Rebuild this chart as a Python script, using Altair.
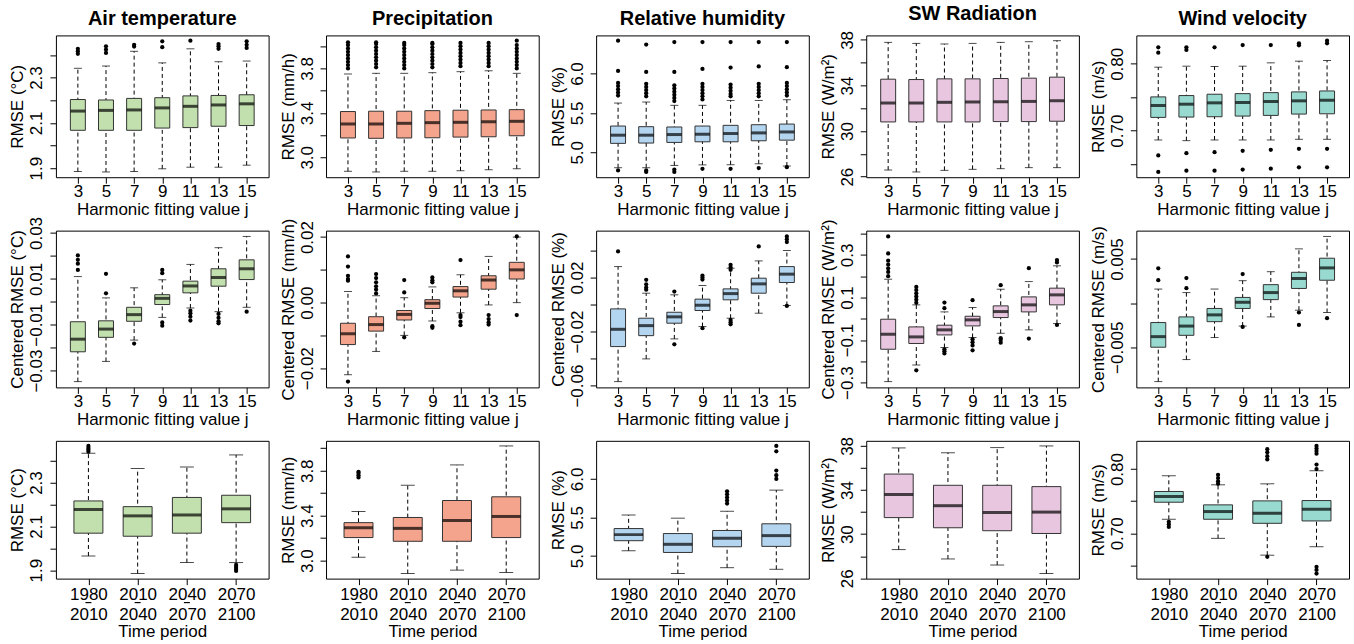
import json
import altair as alt
import pandas as pd

FONT = "Liberation Sans"

J_VALUES = ["3", "5", "7", "9", "11", "13", "15"]
PERIODS = ["1980-2010", "2010-2040", "2040-2070", "2070-2100"]

TITLES = ["Air temperature", "Precipitation", "Relative humidity", "SW Radiation", "Wind velocity"]
YT_RMSE = ["RMSE (°C)", "RMSE (mm/h)", "RMSE (%)", "RMSE (W/m²)", "RMSE (m/s)"]
YT_CENT = ["Centered RMSE (°C)", "Centered RMSE (mm/h)", "Centered RMSE (%)",
           "Centered RMSE (W/m²)", "Centered RMSE (m/s)"]
XT_J = "Harmonic fitting value j"
XT_T = "Time period"
COLORS = ["#C2E0AE", "#F4A48C", "#B4D5F0", "#E8C6DF", "#98DAD0"]

# each tuple: (lower whisker, Q1, median, Q3, upper whisker)
# ---- row 1: RMSE vs harmonic fitting value j
AIR_J = [(1.885, 2.067, 2.152, 2.203, 2.341), (1.883, 2.067, 2.155, 2.201, 2.351),
         (1.885, 2.067, 2.157, 2.208, 2.416), (1.897, 2.077, 2.166, 2.211, 2.365),
         (1.904, 2.079, 2.173, 2.219, 2.427), (1.904, 2.085, 2.179, 2.221, 2.370),
         (1.913, 2.088, 2.184, 2.224, 2.373)]
AIR_J_OUT = [[2.405, 2.416, 2.427], [2.409, 2.424, 2.438], [2.437, 2.445], [2.434, 2.460],
             [2.463], [2.427, 2.438, 2.448], [2.431, 2.445, 2.460]]

PRE_J = [(2.874, 3.174, 3.300, 3.412, 3.750), (2.868, 3.171, 3.300, 3.415, 3.756),
         (2.874, 3.174, 3.306, 3.415, 3.756), (2.874, 3.176, 3.312, 3.420, 3.762),
         (2.879, 3.182, 3.315, 3.424, 3.771), (2.888, 3.185, 3.320, 3.426, 3.779),
         (2.897, 3.194, 3.324, 3.429, 3.756)]
PRE_J_OUT = [[3.80, 3.83, 3.86, 3.89, 3.92, 3.95, 3.98, 4.01, 4.035],
             [3.81, 3.84, 3.87, 3.90, 3.93, 3.96, 3.99, 4.02, 4.035],
             [3.80, 3.83, 3.86, 3.89, 3.92, 3.95, 3.98, 4.01, 4.03],
             [3.81, 3.84, 3.87, 3.90, 3.93, 3.96, 3.99, 4.02, 4.03],
             [3.82, 3.85, 3.88, 3.91, 3.94, 3.97, 4.00, 4.03],
             [3.82, 3.85, 3.88, 3.91, 3.94, 3.97, 4.00, 4.03],
             [3.80, 3.83, 3.86, 3.89, 3.92, 3.95, 3.98, 4.01, 4.05]]

RH_J = [(4.804, 5.113, 5.217, 5.333, 5.625), (4.804, 5.117, 5.217, 5.325, 5.638),
        (4.833, 5.125, 5.225, 5.321, 5.596), (4.840, 5.133, 5.229, 5.333, 5.596),
        (4.842, 5.133, 5.238, 5.342, 5.658), (4.854, 5.146, 5.246, 5.350, 5.658),
        (4.825, 5.154, 5.258, 5.358, 5.667)]
RH_J_OUT = [[6.417, 6.033, 5.88, 5.84, 5.80, 5.76, 5.72, 4.77],
            [6.367, 6.02, 5.87, 5.83, 5.79, 5.75, 5.71, 4.77, 4.75],
            [6.40, 6.02, 5.85, 5.81, 5.77, 5.73, 5.69, 5.65, 4.78, 4.75],
            [6.40, 6.058, 5.87, 5.83, 5.79, 5.75, 5.71, 5.67, 4.79],
            [6.40, 6.075, 5.86, 5.82, 5.78, 5.74, 5.71, 4.79],
            [6.40, 6.09, 5.87, 5.83, 5.79, 5.75, 5.71, 4.80],
            [6.40, 6.08, 5.88, 5.84, 5.80, 5.76, 5.72, 4.81]]

SW_J = [(26.58, 30.80, 32.46, 34.55, 37.78), (26.41, 30.80, 32.46, 34.52, 37.69),
        (26.55, 30.80, 32.52, 34.58, 37.64), (26.64, 30.80, 32.55, 34.58, 37.69),
        (26.70, 30.83, 32.57, 34.61, 37.78), (26.79, 30.83, 32.60, 34.64, 37.84),
        (26.79, 30.86, 32.66, 34.73, 37.93)]
SW_J_OUT = [[], [], [], [], [], [], []]

WIND_J = [(0.686, 0.7198, 0.7376, 0.7505, 0.795), (0.685, 0.7203, 0.7396, 0.7525, 0.7965),
          (0.686, 0.7208, 0.7416, 0.7545, 0.796), (0.686, 0.7218, 0.7421, 0.7554, 0.7965),
          (0.686, 0.7228, 0.7436, 0.7569, 0.8015), (0.687, 0.7248, 0.7446, 0.758, 0.804),
          (0.687, 0.7252, 0.7455, 0.7594, 0.805)]
WIND_J_OUT = [[0.8248, 0.8168, 0.6629, 0.6381], [0.8248, 0.8208, 0.6663, 0.640],
              [0.8248, 0.6678, 0.640], [0.8282, 0.6698, 0.6416], [0.8282, 0.6713, 0.643],
              [0.8307, 0.8277, 0.6728, 0.645], [0.8347, 0.8307, 0.6728, 0.645]]

# ---- row 2: centered RMSE vs harmonic fitting value j
AIR_C = [(-0.0348, -0.0218, -0.0163, -0.0087, 0.0110), (-0.0260, -0.0155, -0.0119, -0.0083, 0.0017),
         (-0.0167, -0.0085, -0.0056, -0.0024, 0.0061), (-0.0068, -0.0012, 0.0015, 0.0031, 0.0096),
         (-0.0027, 0.0039, 0.0069, 0.0090, 0.0163), (-0.0043, 0.0068, 0.0106, 0.0144, 0.0236),
         (-0.0024, 0.0097, 0.0144, 0.0183, 0.0285)]
AIR_C_OUT = [[0.0202, 0.0183, 0.0166, 0.0139], [0.0122, 0.0037], [-0.0182],
             [0.0139, 0.0125, -0.0090, -0.0104], [-0.0039, -0.0050, -0.0065, -0.0082],
             [-0.0053, -0.0070, -0.0085, -0.0094], [-0.0043]]

PRE_C = [(-0.0220, -0.0128, -0.0095, -0.0063, 0.0034), (-0.0149, -0.0087, -0.0067, -0.0043, 0.0021),
         (-0.0100, -0.0053, -0.0036, -0.0024, 0.0015), (-0.0056, -0.0018, -0.0002, 0.0009, 0.0048),
         (-0.0031, 0.0017, 0.0036, 0.0049, 0.0085), (-0.0007, 0.0041, 0.0069, 0.0082, 0.0141),
         (0.0000, 0.0072, 0.0100, 0.0123, 0.0200)]
PRE_C_OUT = [[0.0141, 0.0110, 0.0082, 0.0072, 0.0067, -0.0241],
             [0.0087, 0.0075, 0.0062, 0.0050, 0.0040, 0.0028],
             [0.0069, 0.0031, -0.0106], [0.0077, 0.0068, 0.0062, -0.0072, -0.0077],
             [0.0130, -0.0038, -0.0044, -0.0058, -0.0069], [-0.0038, -0.0050, -0.0060, -0.0067],
             [0.0202, -0.0038]]

RH_C = [(-0.0570, -0.0311, -0.0183, -0.0032, 0.0281), (-0.0402, -0.0230, -0.0156, -0.0101, 0.0084),
        (-0.0254, -0.0138, -0.0091, -0.0057, 0.0072), (-0.0163, -0.0044, -0.0005, 0.0040, 0.0141),
        (-0.0101, 0.0035, 0.0081, 0.0116, 0.0269), (-0.0064, 0.0084, 0.0153, 0.0195, 0.0323),
        (-0.0007, 0.0163, 0.0225, 0.0281, 0.0400)]
RH_C_OUT = [[0.0393], [0.0183, 0.0150, 0.0126, 0.0110], [0.0096, -0.0294],
            [0.0215, 0.0200, 0.0185, -0.0175], [0.0294, 0.0275, 0.0257, -0.0114, -0.0130, -0.0146],
            [0.0430], [0.0504, 0.0483, 0.0462, -0.0010]]

SW_C = [(-0.295, -0.143, -0.0725, -0.002, 0.186), (-0.217, -0.116, -0.085, -0.038, 0.0655),
        (-0.135, -0.0757, -0.052, -0.030, 0.0325), (-0.088, -0.0333, -0.005, 0.012, 0.053),
        (-0.068, 0.0059, 0.034, 0.0608, 0.139), (-0.052, 0.0325, 0.0655, 0.103, 0.175),
        (-0.0224, 0.0655, 0.1125, 0.144, 0.249)]
SW_C_OUT = [[0.387, 0.307, 0.273, 0.255, 0.237, 0.220, 0.200],
            [0.150, 0.135, 0.120, 0.105, 0.090, 0.075, -0.242],
            [0.0765, 0.050, -0.143, -0.153, -0.163], [0.0875, -0.096, -0.110, -0.125, -0.148],
            [0.158, -0.091, -0.100, -0.112], [0.238, -0.093], [0.276, 0.265, -0.029]]

WIND_C = [(-0.0089, -0.0050, -0.0038, -0.0022, 0.0016), (-0.0064, -0.00365, -0.0026, -0.00156, 0.0012),
          (-0.0039, -0.0021, -0.00133, -0.0006, 0.0016), (-0.0026, -0.0006, 0.0001, 0.00065, 0.00255),
          (-0.00156, 0.0004, 0.0012, 0.0021, 0.00357), (-0.0008, 0.00167, 0.0028, 0.0035, 0.00616),
          (-0.00106, 0.0026, 0.0040, 0.0051, 0.00757)]
WIND_C_OUT = [[0.00395, 0.0026], [0.00285, 0.0017], [], [0.0033, -0.0027], [],
              [-0.00106, -0.00247], [-0.0017]]

# ---- row 3: RMSE by time period
AIR_T = [(1.965, 2.069, 2.177, 2.216, 2.434), (1.885, 2.055, 2.148, 2.190, 2.364),
         (1.935, 2.069, 2.152, 2.232, 2.371), (1.935, 2.117, 2.180, 2.242, 2.426)]
AIR_T_OUT = [[2.441, 2.450, 2.458, 2.467], [], [], [1.924, 1.915, 1.906, 1.897]]

PRE_T = [(3.030, 3.205, 3.293, 3.338, 3.438), (2.885, 3.172, 3.287, 3.384, 3.671),
         (2.915, 3.172, 3.356, 3.535, 3.852), (2.894, 3.205, 3.393, 3.568, 4.021)]
PRE_T_OUT = [[3.74, 3.76, 3.78, 3.79], [], [], []]

RH_T = [(5.066, 5.197, 5.276, 5.355, 5.530), (4.770, 5.044, 5.150, 5.290, 5.490),
        (4.846, 5.118, 5.228, 5.330, 5.580), (4.825, 5.123, 5.263, 5.417, 5.855)]
RH_T_OUT = [[], [], [5.68, 5.72, 5.76, 5.80, 5.84], [6.00, 6.05, 6.11, 6.36, 6.43]]

SW_T = [(28.60, 31.50, 33.60, 35.45, 37.82), (27.75, 30.58, 32.58, 34.43, 37.38),
        (27.20, 30.31, 31.97, 34.43, 37.85), (26.43, 30.06, 32.00, 34.31, 38.00)]
SW_T_OUT = [[], [], [], []]

WIND_T = [(0.7219, 0.7484, 0.7573, 0.7651, 0.7896), (0.6922, 0.7219, 0.7339, 0.7443, 0.7755),
          (0.6661, 0.7156, 0.7313, 0.7505, 0.7770), (0.6792, 0.7193, 0.7375, 0.7510, 0.7974)]
WIND_T_OUT = [[0.718, 0.714, 0.710], [0.791, 0.786, 0.781, 0.777],
              [0.831, 0.826, 0.820, 0.815, 0.6635],
              [0.836, 0.832, 0.828, 0.824, 0.807, 0.800, 0.648, 0.643, 0.6375]]

# y-axis ticks and the subset that carries a label
TICKS_AIR = [1.9, 2.0, 2.1, 2.2, 2.3, 2.4]; LAB_AIR = [1.9, 2.1, 2.3]
TICKS_PRE = [3.0, 3.2, 3.4, 3.6, 3.8, 4.0]; LAB_PRE = [3.0, 3.4, 3.8]
TICKS_RH = [5.0, 5.5, 6.0]; LAB_RH = [5.0, 5.5, 6.0]
TICKS_SW = [26, 28, 30, 32, 34, 36, 38]; LAB_SW = [26, 30, 34, 38]
TICKS_WIND = [0.65, 0.70, 0.75, 0.80]; LAB_WIND = [0.70, 0.80]
TICKS_AIR_C = [-0.03, -0.02, -0.01, 0.0, 0.01, 0.02, 0.03]; LAB_AIR_C = [-0.03, -0.01, 0.01, 0.03]
TICKS_PRE_C = [-0.02, -0.01, 0.0, 0.01, 0.02]; LAB_PRE_C = [-0.02, 0.0, 0.02]
TICKS_RH_C = [-0.06, -0.04, -0.02, 0.0, 0.02, 0.04]; LAB_RH_C = [-0.06, -0.02, 0.02]
TICKS_SW_C = [-0.3, -0.2, -0.1, 0.0, 0.1, 0.2, 0.3, 0.4]; LAB_SW_C = [-0.3, -0.1, 0.1, 0.3]
TICKS_WIND_C = [-0.005, 0.0, 0.005]; LAB_WIND_C = [-0.005, 0.005]


def boxpanel(stats, outs, cats, color, ytitle, xtitle, ticks, labeled, fmt,
             height, box_w, cap_w, xpad, title=None, periods=False):
    df = pd.DataFrame([dict(cat=c, lw=s[0], q1=s[1], med=s[2], q3=s[3], uw=s[4])
                       for c, s in zip(cats, stats)])
    odf = pd.DataFrame([dict(cat=c, v=v) for c, vs in zip(cats, outs) for v in vs],
                       columns=["cat", "v"])
    allv = [s[0] for s in stats] + [s[4] for s in stats] + [v for vs in outs for v in vs]
    lo, hi = min(allv), max(allv)
    ext = 0.04 * (hi - lo)
    yscale = alt.Scale(domain=[lo - ext, hi + ext], nice=False, zero=False)
    xscale = alt.Scale(type="point", domain=cats, padding=xpad)

    xaxis_kw = dict(labelAngle=0, tickSize=6, labelPadding=0, domain=False, grid=False,
                    labelFontSize=17, titleFontSize=17, titlePadding=2,
                    tickColor="black", labelColor="black", titleColor="black",
                    titleFontWeight="normal", labelFont=FONT, titleFont=FONT)
    if periods:
        xaxis_kw.update(labelExpr="split(datum.label, '-')", labelLineHeight=20,
                        labelPadding=2, titlePadding=1)
    xaxis = alt.Axis(**xaxis_kw)
    yaxis = alt.Axis(values=ticks,
                     labelExpr="indexof(%s, datum.value) >= 0 ? format(datum.value, '%s') : ''"
                               % (json.dumps(labeled), fmt),
                     labelAngle=270, labelAlign="center", labelBaseline="bottom",
                     labelFlush=False, labelOverlap=False, labelBound=False,
                     tickSize=6, labelPadding=4, domain=False, grid=False,
                     labelFontSize=17, titleFontSize=17, titlePadding=1,
                     tickColor="black", labelColor="black", titleColor="black",
                     titleFontWeight="normal", labelFont=FONT, titleFont=FONT)

    X = alt.X("cat:N", scale=xscale, axis=xaxis, title=xtitle, sort=cats)

    def Y(field):
        return alt.Y(field + ":Q", scale=yscale, axis=yaxis, title=ytitle)

    base = alt.Chart(df)
    whisk = base.mark_rule(color="black", strokeWidth=1, strokeDash=[4, 3]).encode(
        x=X, y=Y("lw"), y2="uw:Q")
    cap_lo = base.mark_tick(color="black", size=cap_w, thickness=1).encode(x=X, y=Y("lw"))
    cap_hi = base.mark_tick(color="black", size=cap_w, thickness=1).encode(x=X, y=Y("uw"))
    box = base.mark_bar(size=box_w, fill=color, stroke="#333333", strokeWidth=1,
                        opacity=1).encode(x=X, y=Y("q1"), y2="q3:Q")
    med = base.mark_tick(color="black", size=box_w, thickness=3).encode(x=X, y=Y("med"))
    layers = [whisk, cap_lo, cap_hi, box, med]
    if len(odf):
        pts = alt.Chart(odf).mark_circle(color="black", size=18, opacity=1).encode(
            x=X, y=Y("v"))
        layers.append(pts)
    if periods:
        # the short dash drawn between the two years of each period label
        dash = base.mark_point(shape="M-1,0L1,0", size=36, stroke="black", strokeWidth=1.2,
                               filled=False, opacity=1).encode(
            x=X, y=alt.value(height + 24))
        layers.append(dash)
    ch = alt.layer(*layers).properties(width=213, height=height)
    if title:
        ch = ch.properties(title=alt.TitleParams(text=title, fontSize=20, fontWeight="bold",
                                                 font=FONT, color="black", anchor="middle",
                                                 offset=6))
    return ch


row1 = [
    boxpanel(AIR_J, AIR_J_OUT, J_VALUES, COLORS[0], YT_RMSE[0], XT_J, TICKS_AIR, LAB_AIR, ".1f", 142, 15, 8, 0.78, TITLES[0]),
    boxpanel(PRE_J, PRE_J_OUT, J_VALUES, COLORS[1], YT_RMSE[1], XT_J, TICKS_PRE, LAB_PRE, ".1f", 142, 15, 8, 0.78, TITLES[1]),
    boxpanel(RH_J, RH_J_OUT, J_VALUES, COLORS[2], YT_RMSE[2], XT_J, TICKS_RH, LAB_RH, ".1f", 142, 15, 8, 0.78, TITLES[2]),
    boxpanel(SW_J, SW_J_OUT, J_VALUES, COLORS[3], YT_RMSE[3], XT_J, TICKS_SW, LAB_SW, "d", 142, 15, 8, 0.78, TITLES[3]),
    boxpanel(WIND_J, WIND_J_OUT, J_VALUES, COLORS[4], YT_RMSE[4], XT_J, TICKS_WIND, LAB_WIND, ".2f", 142, 15, 8, 0.78, TITLES[4]),
]
row2 = [
    boxpanel(AIR_C, AIR_C_OUT, J_VALUES, COLORS[0], YT_CENT[0], XT_J, TICKS_AIR_C, LAB_AIR_C, ".2f", 157, 15, 8, 0.78),
    boxpanel(PRE_C, PRE_C_OUT, J_VALUES, COLORS[1], YT_CENT[1], XT_J, TICKS_PRE_C, LAB_PRE_C, ".2f", 157, 15, 8, 0.78),
    boxpanel(RH_C, RH_C_OUT, J_VALUES, COLORS[2], YT_CENT[2], XT_J, TICKS_RH_C, LAB_RH_C, ".2f", 157, 15, 8, 0.78),
    boxpanel(SW_C, SW_C_OUT, J_VALUES, COLORS[3], YT_CENT[3], XT_J, TICKS_SW_C, LAB_SW_C, ".1f", 157, 15, 8, 0.78),
    boxpanel(WIND_C, WIND_C_OUT, J_VALUES, COLORS[4], YT_CENT[4], XT_J, TICKS_WIND_C, LAB_WIND_C, ".3f", 157, 15, 8, 0.78),
]
row3 = [
    boxpanel(AIR_T, AIR_T_OUT, PERIODS, COLORS[0], YT_RMSE[0], XT_T, TICKS_AIR, LAB_AIR, ".1f", 138, 29, 14, 0.66, periods=True),
    boxpanel(PRE_T, PRE_T_OUT, PERIODS, COLORS[1], YT_RMSE[1], XT_T, TICKS_PRE, LAB_PRE, ".1f", 138, 29, 14, 0.66, periods=True),
    boxpanel(RH_T, RH_T_OUT, PERIODS, COLORS[2], YT_RMSE[2], XT_T, TICKS_RH, LAB_RH, ".1f", 138, 29, 14, 0.66, periods=True),
    boxpanel(SW_T, SW_T_OUT, PERIODS, COLORS[3], YT_RMSE[3], XT_T, TICKS_SW, LAB_SW, "d", 138, 29, 14, 0.66, periods=True),
    boxpanel(WIND_T, WIND_T_OUT, PERIODS, COLORS[4], YT_RMSE[4], XT_T, TICKS_WIND, LAB_WIND, ".2f", 138, 29, 14, 0.66, periods=True),
]

chart = alt.concat(*(row1 + row2 + row3), columns=5,
                   spacing={"row": 53.5, "column": 57.5}, bounds="flush").properties(
    padding={"left": 8, "top": 3, "right": 4, "bottom": 1},
    background="white",
).configure(font=FONT).configure_view(stroke="black", strokeWidth=1)

chart.save("out.html", embed_options={"renderer": "svg", "actions": False})
